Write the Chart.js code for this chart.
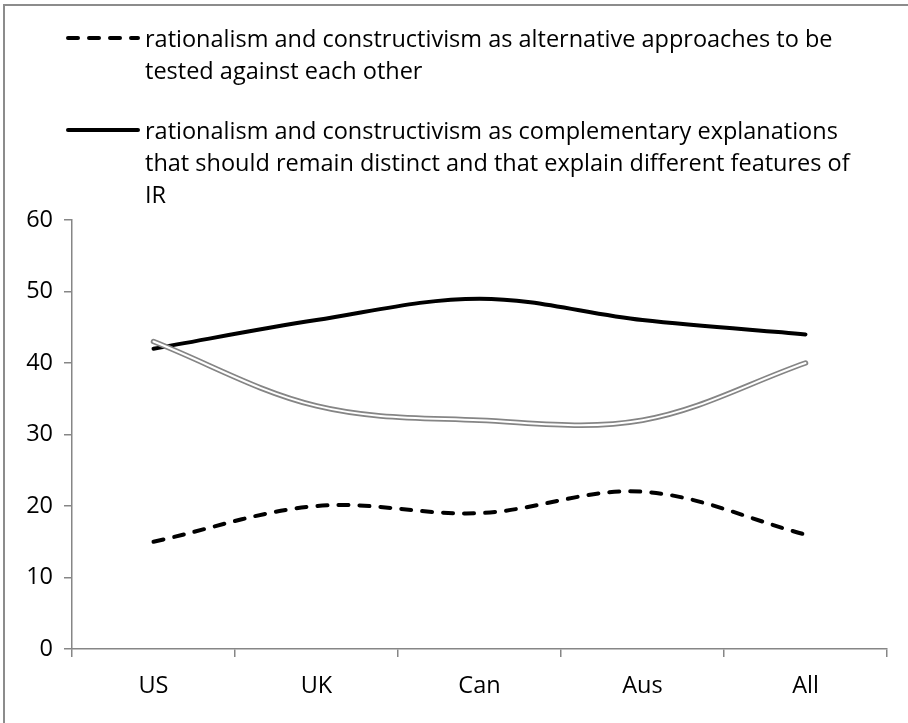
<!DOCTYPE html>
<html>
<head>
<meta charset="utf-8">
<script src="https://cdn.jsdelivr.net/npm/chart.js@4"></script>
<style>
  html, body { margin: 0; padding: 0; background: #fff; }
  #wrap { position: relative; width: 908px; height: 723px; overflow: hidden; }
  #frame { position: absolute; left: 3px; top: 4px; right: -10px; bottom: -10px;
           border-left: 2px solid #8c8c8c; border-top: 2px solid #8c8c8c; pointer-events: none; }
  #chart { position: absolute; left: 0; top: 0; }
  .legend { position: absolute; left: 0; top: 0; font-family: "Open Sans", sans-serif;
            line-height: 32px; color: #000; }
  .legend .item { position: absolute; left: 145px; width: 760px; white-space: nowrap; }
  .legend svg { position: absolute; left: -80px; top: 0; }
</style>
</head>
<body>
<div id="wrap">
  <canvas id="chart" width="908" height="723"></canvas>
  <div id="legend" class="legend"></div>
  <div id="frame"></div>
</div>
<script>
const categories = ['US', 'UK', 'Can', 'Aus', 'All'];
const yTicks = [0, 10, 20, 30, 40, 50, 60];

const alternativeLabel   = 'rationalism and constructivism as alternative approaches to be tested against each other';
const complementaryLabel = 'rationalism and constructivism as complementary explanations that should remain distinct and that explain different features of IR';

const alternative   = [15, 20, 19, 22, 16];
const complementary = [42, 46, 49, 46, 44];
const thirdSeries   = [43, 34, 32, 32, 40];

// taille de police : la 1re ligne de légende fait ~691 px dans l'original
const FAMILY = '"Open Sans", sans-serif';
function fitSize() {
  const c = document.createElement('canvas').getContext('2d');
  c.font = `100px ${FAMILY}`;
  const w = c.measureText('rationalism and constructivism as alternative approaches to be').width;
  return Math.round(100 * 691 / w * 2) / 2;
}
const fontSize = fitSize();

function buildLegend() {
  const el = document.getElementById('legend');
  el.style.fontSize = fontSize + 'px';
  const items = [
    { top: 22,  text: 'rationalism and constructivism as alternative approaches to be<br>tested against each other', dash: '10 11' },
    { top: 114, text: 'rationalism and constructivism as complementary explanations<br>that should remain distinct and that explain different features of<br>IR', dash: null },
  ];
  el.innerHTML = items.map(it => `
    <div class="item" style="top:${it.top}px">
      <svg width="76" height="32"><line x1="3" y1="16" x2="73" y2="16" stroke="#000" stroke-width="4"
        stroke-linecap="round" ${it.dash ? `stroke-dasharray="${it.dash}"` : ''}/></svg>
      ${it.text}
    </div>`).join('');
}
buildLegend();

const axisColor = '#868686';
const font = { family: FAMILY, size: fontSize };

new Chart(document.getElementById('chart'), {
  type: 'line',
  data: {
    labels: categories,
    datasets: [
      {
        label: alternativeLabel,
        data: alternative,
        borderColor: '#000',
        borderWidth: 4,
        borderDash: [10, 11],
        borderCapStyle: 'round',
        pointRadius: 0,
        tension: 0.35,
        order: 3,
      },
      {
        label: complementaryLabel,
        data: complementary,
        borderColor: '#000',
        borderWidth: 4,
        borderCapStyle: 'round',
        pointRadius: 0,
        tension: 0.35,
        order: 2,
      },
      {
        label: '',
        data: thirdSeries,
        borderColor: '#858585',
        borderWidth: 5.5,
        borderCapStyle: 'round',
        pointRadius: 0,
        tension: 0.35,
        order: 1,
      },
      {
        label: '',
        data: thirdSeries,
        borderColor: '#fff',
        borderWidth: 2,
        borderCapStyle: 'round',
        pointRadius: 0,
        tension: 0.35,
        order: 0,
      },
    ],
  },
  options: {
    responsive: false,
    animation: false,
    layout: { padding: { top: 220, right: 21, left: 0, bottom: 0 } },
    plugins: { legend: { display: false }, tooltip: { enabled: false } },
    scales: {
      x: {
        offset: true,
        grid: { offset: true, drawOnChartArea: false, color: axisColor, tickLength: 8, lineWidth: 1.5 },
        border: { color: axisColor, width: 1.5 },
        ticks: { color: '#000', font, padding: 15, maxRotation: 0 },
        afterFit: s => { s.height = 74; },
      },
      y: {
        min: 0,
        max: 60,
        afterBuildTicks: s => { s.ticks = yTicks.map(v => ({ value: v })); },
        grid: { drawOnChartArea: false, color: axisColor, tickLength: 8, lineWidth: 1.5 },
        border: { color: axisColor, width: 1.5 },
        ticks: { color: '#000', font, padding: 11 },
        afterFit: s => { s.width = 72; },
      },
    },
  },
});
</script>
</body>
</html>
